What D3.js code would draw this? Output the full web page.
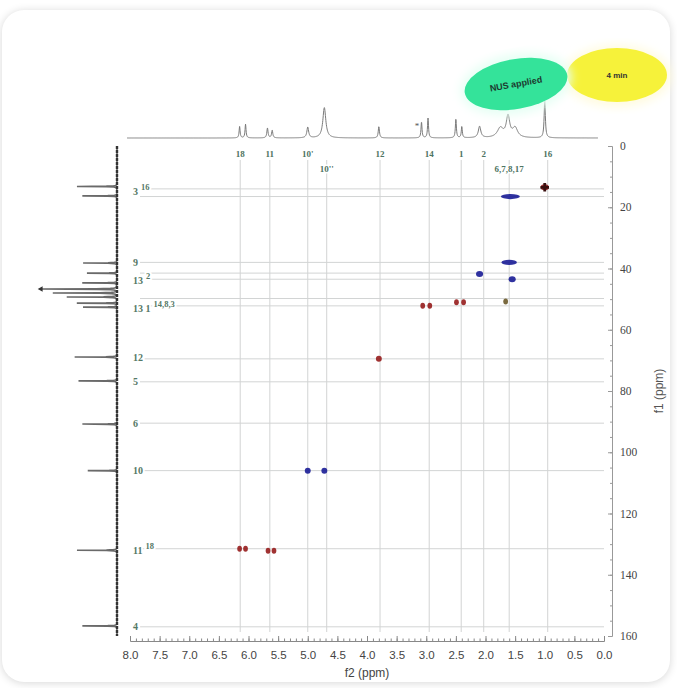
<!DOCTYPE html>
<html>
<head>
<meta charset="utf-8">
<script src="https://cdn.jsdelivr.net/npm/d3@7"></script>
<style>
  body { margin: 0; background: #fff; }
  #card {
    position: absolute; left: 2px; top: 10px; width: 668px; height: 672px;
    border-radius: 22px; background: #fff;
    box-shadow: 0 1px 9px rgba(0,0,0,0.16);
  }
  #chart { position: absolute; left: 0; top: 0; }
</style>
</head>
<body>
<div id="card"></div>
<div id="chart"></div>
<script>
let width = 677,
    height = 688;

// f2 (1H) and f1 (13C) ticks
const f2Ticks = [8.0, 7.5, 7.0, 6.5, 6.0, 5.5, 5.0, 4.5, 4.0, 3.5, 3.0, 2.5, 2.0, 1.5, 1.0, 0.5, 0.0];
const f1Ticks = [0, 20, 40, 60, 80, 100, 120, 140, 160];

// 1H projection peaks: ppm, relative height, half width
const hPpm    = [6.15, 6.05, 5.68, 5.60, 5.00, 4.72, 3.80, 3.08, 2.97, 2.50, 2.40, 2.10, 1.75, 1.62, 1.50, 1.00];
const hHeight = [0.30, 0.36, 0.26, 0.20, 0.28, 0.80, 0.30, 0.42, 0.52, 0.50, 0.30, 0.30, 0.25, 0.55, 0.25, 1.00];
const hWidth  = [0.010, 0.010, 0.012, 0.012, 0.018, 0.030, 0.012, 0.010, 0.010, 0.010, 0.010, 0.025, 0.06, 0.035, 0.05, 0.012];

// 13C projection peaks: ppm, relative height
const cPpm    = [13.2, 16.3, 38.2, 41.5, 44.7, 46.7, 48.0, 49.3, 51.3, 52.6, 68.9, 76.7, 90.8, 106.0, 132.0, 156.7];
const cHeight = [0.52, 0.45, 0.44, 0.39, 0.45, 1.00, 0.83, 0.65, 0.52, 0.44, 0.55, 0.50, 0.45, 0.38, 0.52, 0.45];

// guide lines
const rowF1 = [14, 16.5, 38, 41.5, 43.5, 49.8, 52.2, 69.5, 77, 90.5, 106, 131.5, 157];
const colF2 = [6.14, 5.64, 5.0, 4.68, 3.78, 2.95, 2.41, 2.03, 1.6, 0.95];

// atom labels along the top: ppm, row, text
const topLabels = [
  [6.14, 0, "18"], [5.64, 0, "11"], [5.0, 0, "10'"], [3.78, 0, "12"],
  [2.95, 0, "14"], [2.41, 0, "1"], [2.03, 0, "2"], [0.95, 0, "16"],
  [4.68, 1, "10''"], [1.6, 1, "6,7,8,17"]
];

// atom labels along the left: ppm, text, superscript
const leftLabels = [
  [15, "3", "16"], [38, "9", ""], [44, "13", "2"], [53, "13 1", "14,8,3"],
  [69, "12", ""], [77, "5", ""], [90.5, "6", ""], [106, "10", ""],
  [132, "11", "18"], [157, "4", ""]
];

// HSQC cross peaks: f2, f1, phase, width in f2 (ppm)
const peakF2    = [1.00, 1.58, 1.60, 2.10, 1.55, 3.06, 2.94, 2.49, 2.37, 1.66, 3.80, 5.00, 4.72, 6.15, 6.05, 5.67, 5.57];
const peakF1    = [13.5, 16.5, 38.0, 41.8, 43.5, 52.2, 52.2, 51.0, 51.0, 50.8, 69.5, 106.0, 106.0, 131.5, 131.5, 132.2, 132.2];
const peakPhase = ["pos", "neg", "neg", "neg", "neg", "pos", "pos", "pos", "pos", "mix", "pos", "neg", "neg", "pos", "pos", "pos", "pos"];
const peakWidth = [0.07, 0.16, 0.13, 0.06, 0.06, 0.04, 0.04, 0.04, 0.04, 0.04, 0.05, 0.05, 0.05, 0.04, 0.04, 0.04, 0.04];

const svg = d3.select("#chart")
  .append("svg")
  .attr("width", width)
  .attr("height", height);

let x = d3.scaleLinear().domain([8, 0]).range([130, 604]);
let y = d3.scaleLinear().domain([0, 160]).range([146, 636]);

let phaseColor = d3.scaleOrdinal()
  .domain(["pos", "neg", "mix"])
  .range(["#961c1c", "#1a1c96", "#6b5a2a"]);

// guide lines
svg.append("g")
  .selectAll("line")
  .data(colF2)
  .join("line")
  .attr("x1", d => x(d)).attr("x2", d => x(d))
  .attr("y1", 160).attr("y2", 632)
  .attr("stroke", "#d2d4d4")
  .attr("stroke-width", 1);

svg.append("g")
  .selectAll("line")
  .data(rowF1)
  .join("line")
  .attr("x1", 140).attr("x2", 604)
  .attr("y1", d => y(d)).attr("y2", d => y(d))
  .attr("stroke", "#d2d4d4")
  .attr("stroke-width", 1);

// top 1H projection
let yTop = d3.scaleLinear().domain([0, 1]).range([138, 100]);
let hPts = d3.range(8.05, 0.1, -0.004).map(p => {
  let s = 0;
  hPpm.forEach((c, i) => {
    let w = hWidth[i];
    s += hHeight[i] * w * w / ((p - c) * (p - c) + w * w);
  });
  return [p, s];
});
svg.append("path")
  .datum(hPts)
  .attr("fill", "none")
  .attr("stroke", "#7a7a7a")
  .attr("stroke-width", 1)
  .attr("d", d3.line().x(d => x(d[0])).y(d => yTop(d[1])));

svg.append("text")
  .attr("x", x(3.12)).attr("y", 129)
  .attr("font-size", 9)
  .attr("fill", "#555")
  .attr("text-anchor", "end")
  .text("*");

// left 13C projection
let xLeft = d3.scaleLinear().domain([0, 1]).range([117, 40]);
let cPts = d3.range(0, 160.05, 0.1).map(p => {
  let s = 0;
  cPpm.forEach((c, i) => {
    let w = 0.06;
    s += cHeight[i] * w * w / ((p - c) * (p - c) + w * w);
  });
  return [p, s];
});
svg.append("path")
  .datum(cPts)
  .attr("fill", "none")
  .attr("stroke", "#6a6a6a")
  .attr("stroke-width", 1.6)
  .attr("d", d3.line().x(d => xLeft(d[1])).y(d => y(d[0])));

svg.append("line")
  .attr("x1", 117).attr("x2", 117)
  .attr("y1", y(0)).attr("y2", y(160))
  .attr("stroke", "#333")
  .attr("stroke-width", 2.4)
  .attr("stroke-dasharray", "3,1");

svg.append("path")
  .attr("d", d3.symbol(d3.symbolTriangle, 14)())
  .attr("transform", `translate(${xLeft(1) + 1},${y(46.7)}) rotate(-90)`)
  .attr("fill", "#333");

// top atom labels
svg.append("g")
  .selectAll("text")
  .data(topLabels)
  .join("text")
  .attr("x", d => x(d[0]))
  .attr("y", d => d[1] === 0 ? 157 : 172)
  .attr("text-anchor", "middle")
  .attr("font-family", "Liberation Serif, serif")
  .attr("font-size", 9)
  .attr("font-weight", "bold")
  .attr("fill", "#4e7462")
  .attr("paint-order", "stroke")
  .attr("stroke", "#fff")
  .attr("stroke-width", 3)
  .text(d => d[2]);

// left atom labels
let lg = svg.append("g")
  .attr("font-family", "Liberation Serif, serif")
  .attr("font-weight", "bold")
  .attr("fill", "#557866")
  .attr("paint-order", "stroke")
  .attr("stroke", "#fff")
  .attr("stroke-width", 4);

lg.selectAll("text")
  .data(leftLabels)
  .join("text")
  .attr("x", 133)
  .attr("y", d => y(d[0]) + 3.5)
  .attr("font-size", 10)
  .each(function (d) {
    let t = d3.select(this);
    t.append("tspan").text(d[1]);
    if (d[2]) {
      t.append("tspan")
        .attr("dx", 3)
        .attr("dy", -5)
        .attr("font-size", 8.5)
        .text(d[2]);
    }
  });

// cross peaks
let peaks = peakF2.map((f2, i) => ({ f2, f1: peakF1[i], phase: peakPhase[i], w: peakWidth[i] }));

svg.append("g")
  .selectAll("ellipse")
  .data(peaks)
  .join("ellipse")
  .attr("cx", d => x(d.f2))
  .attr("cy", d => y(d.f1))
  .attr("rx", d => Math.abs(x(0) - x(d.w)))
  .attr("ry", d => d.w > 0.1 ? 2.6 : 3)
  .attr("fill", d => phaseColor(d.phase))
  .attr("opacity", 0.9);

// plus-shaped mark on the methyl peak
svg.append("path")
  .attr("d", d3.symbol(d3.symbolCross, 40)())
  .attr("transform", `translate(${x(peakF2[0])},${y(peakF1[0])})`)
  .attr("fill", "#3a1010");

// bottom axis (f2)
svg.append("g")
  .attr("transform", "translate(0,641)")
  .call(d3.axisBottom(x)
    .tickValues(d3.range(0, 8.001, 0.1))
    .tickSize(-2.5)
    .tickFormat(""))
  .call(g => g.selectAll("path,line").attr("stroke", "#888"));

svg.append("g")
  .attr("transform", "translate(0,641)")
  .call(d3.axisBottom(x)
    .tickValues(f2Ticks)
    .tickSize(-5)
    .tickPadding(10)
    .tickFormat(d3.format(".1f")))
  .call(g => g.select(".domain").remove())
  .call(g => g.selectAll("line").attr("stroke", "#888"))
  .call(g => g.selectAll("text")
    .attr("font-family", "Liberation Sans, Arial, sans-serif")
    .attr("font-size", 11.5)
    .attr("fill", "#444"));

svg.append("text")
  .attr("x", x(4)).attr("y", 677)
  .attr("text-anchor", "middle")
  .attr("font-family", "Liberation Sans, Arial, sans-serif")
  .attr("font-size", 12)
  .attr("fill", "#444")
  .text("f2 (ppm)");

// right axis (f1)
svg.append("g")
  .attr("transform", "translate(612,0)")
  .call(d3.axisRight(y)
    .tickValues(d3.range(0, 160.1, 5))
    .tickSize(-2)
    .tickFormat(""))
  .call(g => g.selectAll("path,line").attr("stroke", "#999"));

svg.append("g")
  .attr("transform", "translate(612,0)")
  .call(d3.axisRight(y)
    .tickValues(f1Ticks)
    .tickSize(-4)
    .tickPadding(8))
  .call(g => g.select(".domain").remove())
  .call(g => g.selectAll("line").attr("stroke", "#999"))
  .call(g => g.selectAll("text")
    .attr("font-family", "Liberation Serif, serif")
    .attr("font-size", 11.5)
    .attr("fill", "#444"));

svg.append("text")
  .attr("transform", `translate(663,${y(80)}) rotate(-90)`)
  .attr("text-anchor", "middle")
  .attr("font-family", "Liberation Sans, Arial, sans-serif")
  .attr("font-size", 12)
  .attr("fill", "#555")
  .text("f1 (ppm)");

// legend bubbles
const bubbleText  = ["NUS applied", "4 min"];
const bubbleColor = ["#34e39a", "#f6f23a"];

let defs = svg.append("defs");
defs.append("filter").attr("id", "glow")
  .append("feGaussianBlur").attr("stdDeviation", 5);

svg.append("ellipse")
  .attr("cx", 617).attr("cy", 76).attr("rx", 54).attr("ry", 31)
  .attr("fill", "#fffbe0").attr("filter", "url(#glow)");
svg.append("ellipse")
  .attr("cx", 617).attr("cy", 75).attr("rx", 50).attr("ry", 27)
  .attr("fill", bubbleColor[1]);
svg.append("text")
  .attr("x", 617).attr("y", 78)
  .attr("text-anchor", "middle")
  .attr("font-family", "Liberation Sans, Arial, sans-serif")
  .attr("font-size", 8)
  .attr("font-weight", "bold")
  .attr("fill", "#333")
  .text(bubbleText[1]);

let gb = svg.append("g").attr("transform", "translate(516,84) rotate(-10)");
gb.append("ellipse")
  .attr("rx", 56).attr("ry", 30)
  .attr("fill", "#e6fff4").attr("filter", "url(#glow)");
gb.append("ellipse")
  .attr("rx", 52).attr("ry", 25)
  .attr("fill", bubbleColor[0]);
gb.append("text")
  .attr("y", 3)
  .attr("text-anchor", "middle")
  .attr("font-family", "Liberation Sans, Arial, sans-serif")
  .attr("font-size", 9)
  .attr("font-weight", "bold")
  .attr("fill", "#1d3b30")
  .text(bubbleText[0]);
</script>
</body>
</html>
